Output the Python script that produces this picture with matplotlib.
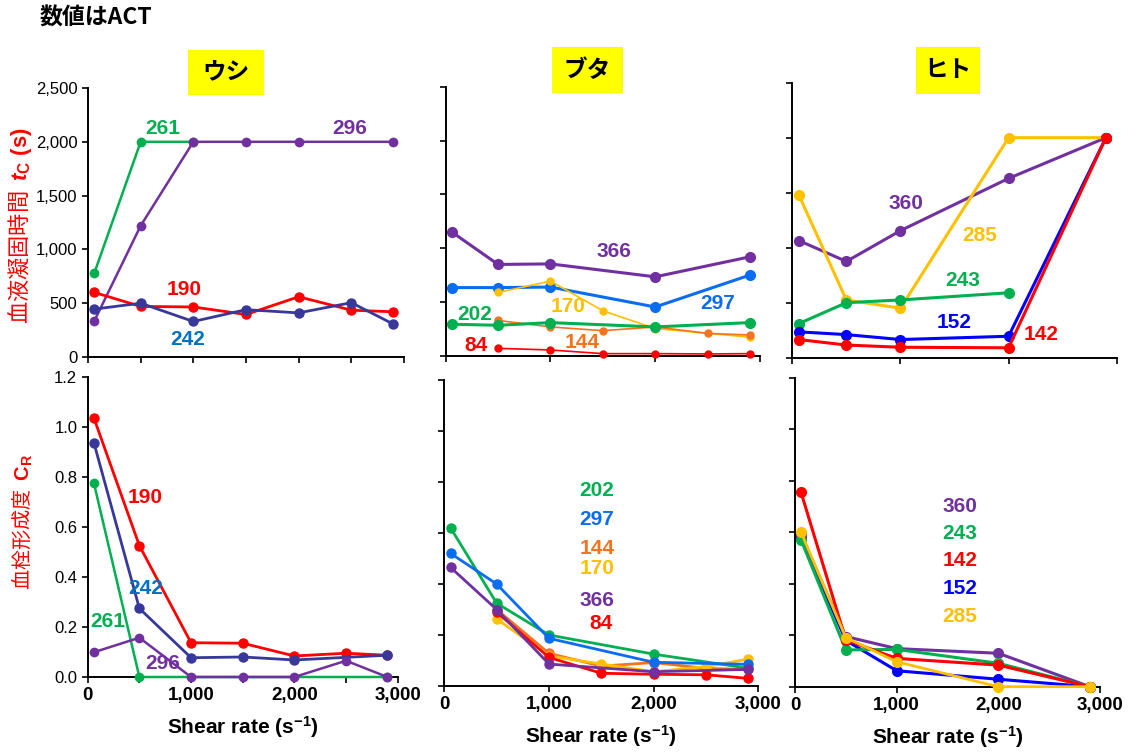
import matplotlib.pyplot as plt
from matplotlib.patches import Rectangle

plt.rcParams['font.family'] = ['Liberation Sans', 'Noto Sans CJK JP']
plt.rcParams['mathtext.fontset'] = 'custom'
plt.rcParams['mathtext.rm'] = 'Liberation Sans'
plt.rcParams['mathtext.bf'] = 'Liberation Sans:bold'
plt.rcParams['mathtext.it'] = 'Liberation Sans:italic'
plt.rcParams['mathtext.bfit'] = 'Liberation Sans:bold:italic'

# colours
RED = '#FF0000'
GREEN = '#00B050'
PURPLE = '#7030A0'
NAVY = '#38389A'
LBLUE = '#0070C0'
BLUE2 = '#0A6CF0'
ORANGE = '#F4731F'
YELLOW = '#FFC000'
BLUE = '#0000FF'

# ---- ウシ (cow) ----
sr_cow = [60, 500, 1000, 1500, 2000, 2500, 2900]
tc_cow_190 = [600, 470, 465, 395, 560, 435, 420]
tc_cow_242_x = [60, 500, 1000, 1500, 2000, 2500, 2900]
tc_cow_242 = [445, 500, 330, 440, 410, 505, 305]
tc_cow_261_x = [60, 500, 1000]
tc_cow_261 = [780, 2000, 2000]
tc_cow_296_x = [60, 500, 1000, 1500, 2000, 2900]
tc_cow_296 = [335, 1220, 2000, 2000, 2000, 2000]

cr_cow_190 = [1.035, 0.525, 0.137, 0.135, 0.084, 0.095, 0.087]
cr_cow_242_x = [60, 500, 1000, 1500, 2000, 2900]
cr_cow_242 = [0.936, 0.274, 0.077, 0.080, 0.068, 0.087]
cr_cow_261_x = [60, 500, 2900]
cr_cow_261 = [0.775, 0.0, 0.0]
cr_cow_296 = [0.099, 0.157, 0.0, 0.0, 0.0, 0.065, 0.0]

# ---- ブタ (pig) ----
sr_pig_a = [60, 500, 1000, 2000, 2900]
sr_pig_b = [500, 1000, 1500, 2000, 2500, 2900]
sr_pig_170 = [500, 1000, 1500, 2000, 2900]
tc_pig_366 = [1150, 850, 855, 735, 920]
tc_pig_297 = [635, 635, 640, 455, 750]
tc_pig_202 = [295, 285, 310, 270, 310]
tc_pig_170 = [590, 695, 420, 255, 175]
tc_pig_144 = [330, 270, 235, 270, 210, 195]
tc_pig_84 = [71, 56, 22, 22, 19, 22]

cr_pig_202 = [0.62, 0.325, 0.20, 0.125, 0.07]
cr_pig_297 = [0.52, 0.40, 0.187, 0.093, 0.085]
cr_pig_366 = [0.465, 0.30, 0.086, 0.056, 0.065]
cr_pig_144 = [0.30, 0.128, 0.078, 0.092, 0.069, 0.065]
cr_pig_170_x = [500, 1000, 1500, 2000, 2500, 2900]
cr_pig_170 = [0.263, 0.118, 0.086, 0.056, 0.076, 0.105]
cr_pig_84 = [0.29, 0.112, 0.05, 0.046, 0.044, 0.030]

# ---- ヒト (human) ----
sr_hum = [60, 500, 1000, 2000, 2900]
sr_hum_243 = [60, 500, 1000, 2000]
tc_hum_360 = [1065, 875, 1155, 1630, 2000]
tc_hum_285 = [1480, 525, 450, 2000, 2000]
tc_hum_243 = [310, 500, 525, 590]
tc_hum_152 = [235, 210, 165, 195, 2000]
tc_hum_142 = [165, 115, 95, 90, 2000]

cr_hum_360 = [0.59, 0.195, 0.148, 0.13, 0.0]
cr_hum_243 = [0.57, 0.143, 0.145, 0.091, 0.0]
cr_hum_152 = [0.58, 0.18, 0.062, 0.029, 0.0]
cr_hum_142 = [0.755, 0.182, 0.110, 0.084, 0.0]
cr_hum_285 = [0.60, 0.191, 0.097, 0.0, 0.0]

W, H = 1129, 755
fig = plt.figure(figsize=(W / 100, H / 100), dpi=100)


def box(x0, y0, x1, y1):
    # pixel box (top-left origin) -> figure fraction
    return [x0 / W, 1 - y1 / H, (x1 - x0) / W, (y1 - y0) / H]


def style(ax):
    for s in ['top', 'right']:
        ax.spines[s].set_visible(False)
    for s in ['left', 'bottom']:
        ax.spines[s].set_linewidth(1.4)
    ax.tick_params(direction='out', length=4, width=1.2, which='both')
    ax.set_xlim(0, 3000)


def line(ax, x, y, c, lw=2.0, ms=6):
    ax.plot(x, y, '-o', color=c, lw=lw, ms=ms, clip_on=False, zorder=3)


def lab(ax, x, y, s, c, fs=15):
    ax.text(x, y, s, color=c, fontsize=fs, fontweight='bold', ha='center', va='center', zorder=5)


yt_top = [0, 500, 1000, 1500, 2000, 2500]
yt_bot = [0, 0.2, 0.4, 0.6, 0.8, 1.0, 1.2]

ax1 = fig.add_axes(box(88, 88, 404, 357))
ax2 = fig.add_axes(box(445.7, 86.7, 760, 356))
ax3 = fig.add_axes(box(792.3, 82.7, 1116.7, 357.7))
ax4 = fig.add_axes(box(87.7, 376.7, 397.7, 677))
ax5 = fig.add_axes(box(444.3, 380, 758.3, 686))
ax6 = fig.add_axes(box(795, 378, 1100, 686.7))

for ax in [ax1, ax2, ax3]:
    style(ax)
    ax.set_ylim(0, 2500)
    ax.set_yticks(yt_top)
    ax.set_xticklabels([])
for ax in [ax4, ax5, ax6]:
    style(ax)
    ax.set_ylim(0, 1.2)
    ax.set_yticks(yt_bot)

ax1.set_xticks([0, 500, 1000, 1500, 2000, 2500, 3000])
ax1.set_xticklabels([])
ax2.set_xticks([0, 1000, 2000, 3000])
ax2.set_xticklabels([])
ax3.set_xticks([0, 1000, 2000, 3000])
ax3.set_xticklabels([])
ax1.set_yticklabels([f'{v:,}' for v in yt_top], fontsize=12)
ax2.set_yticklabels([])
ax3.set_yticklabels([])

ax4.set_yticklabels([f'{v:.1f}' for v in yt_bot], fontsize=12)
ax5.set_yticklabels([])
ax6.set_yticklabels([])
for ax in [ax4, ax5, ax6]:
    ax.set_xticks([0, 1000, 2000, 3000])
    ax.set_xticklabels([f'{v:,}' for v in [0, 1000, 2000, 3000]], fontsize=13.5, fontweight='bold')
    ax.set_xlabel('$\\mathbf{Shear\\ rate\\ (s^{-1})}$', fontsize=15, labelpad=7)
ax4.set_xticks([500, 1500, 2500], minor=True)

# top-left: cow clotting time
line(ax1, tc_cow_261_x, tc_cow_261, GREEN, 1.8, 6)
line(ax1, tc_cow_296_x, tc_cow_296, PURPLE, 1.8, 6)
line(ax1, sr_cow, tc_cow_190, RED, 2.0, 6.5)
line(ax1, tc_cow_242_x, tc_cow_242, NAVY, 2.0, 6.5)
lab(ax1, 712, 2128, '261', GREEN)
lab(ax1, 2487, 2128, '296', PURPLE)
lab(ax1, 911, 623, '190', RED)
lab(ax1, 949, 158, '242', LBLUE)

# top-middle: pig clotting time
line(ax2, sr_pig_a, tc_pig_366, PURPLE, 2.2, 7)
line(ax2, sr_pig_a, tc_pig_297, BLUE2, 2.2, 7)
line(ax2, sr_pig_170, tc_pig_170, YELLOW, 1.2, 5)
line(ax2, sr_pig_b, tc_pig_144, ORANGE, 1.2, 5)
line(ax2, sr_pig_a, tc_pig_202, GREEN, 2.2, 7)
line(ax2, sr_pig_b, tc_pig_84, RED, 1.2, 5)
lab(ax2, 1606, 966, '366', PURPLE)
lab(ax2, 2598, 483, '297', BLUE2)
lab(ax2, 280, 381, '202', GREEN)
lab(ax2, 1167, 464, '170', YELLOW)
lab(ax2, 1300, 121, '144', ORANGE)
lab(ax2, 289, 93, '84', RED)

# top-right: human clotting time
line(ax3, sr_hum, tc_hum_360, PURPLE, 2.2, 7)
line(ax3, sr_hum, tc_hum_285, YELLOW, 2.2, 7)
line(ax3, sr_hum_243, tc_hum_243, GREEN, 2.2, 7)
line(ax3, sr_hum, tc_hum_152, BLUE, 2.2, 7)
line(ax3, sr_hum, tc_hum_142, RED, 2.2, 7)
lab(ax3, 1052, 1406, '360', PURPLE)
lab(ax3, 1736, 1115, '285', YELLOW)
lab(ax3, 1579, 706, '243', GREEN)
lab(ax3, 1496, 316, '152', BLUE)
lab(ax3, 2300, 215, '142', RED)

# bottom-left: cow thrombus formation
line(ax4, cr_cow_261_x, cr_cow_261, GREEN, 1.8, 6)
line(ax4, sr_cow, cr_cow_190, RED, 2.0, 6.5)
line(ax4, cr_cow_242_x, cr_cow_242, NAVY, 2.0, 6.5)
line(ax4, sr_cow, cr_cow_296, PURPLE, 1.8, 6)
lab(ax4, 555, 0.719, '190', RED)
lab(ax4, 564, 0.352, '242', LBLUE)
lab(ax4, 197, 0.220, '261', GREEN)
lab(ax4, 729, 0.052, '296', PURPLE)

# bottom-middle: pig thrombus formation
line(ax5, sr_pig_b, cr_pig_144, ORANGE, 2.0, 6.5)
line(ax5, cr_pig_170_x, cr_pig_170, YELLOW, 2.0, 6.5)
line(ax5, sr_pig_b, cr_pig_84, RED, 2.0, 6.5)
line(ax5, sr_pig_a, cr_pig_202, GREEN, 2.0, 6.5)
line(ax5, sr_pig_a, cr_pig_297, BLUE2, 2.0, 6.5)
line(ax5, sr_pig_a, cr_pig_366, PURPLE, 2.0, 6.5)
lab(ax5, 1458, 0.765, '202', GREEN)
lab(ax5, 1458, 0.651, '297', BLUE2)
lab(ax5, 1458, 0.541, '144', ORANGE)
lab(ax5, 1458, 0.459, '170', YELLOW)
lab(ax5, 1458, 0.337, '366', PURPLE)
lab(ax5, 1497, 0.247, '84', RED)

# bottom-right: human thrombus formation
line(ax6, sr_hum, cr_hum_152, BLUE, 2.2, 7)
line(ax6, sr_hum, cr_hum_360, PURPLE, 2.2, 7)
line(ax6, sr_hum, cr_hum_243, GREEN, 2.2, 7)
line(ax6, sr_hum, cr_hum_142, RED, 2.2, 7)
line(ax6, sr_hum, cr_hum_285, YELLOW, 2.0, 7)
lab(ax6, 1622, 0.702, '360', PURPLE)
lab(ax6, 1622, 0.597, '243', GREEN)
lab(ax6, 1622, 0.489, '142', RED)
lab(ax6, 1622, 0.380, '152', BLUE)
lab(ax6, 1622, 0.271, '285', YELLOW)

# y labels (non-math part of a mathtext string uses the text's own font)
fig.text(20 / W, 1 - 226 / H, '血液凝固時間  $\\mathbfit{t}_\\mathbf{C}\\ \\mathbf{(s)}$', color=RED,
         fontsize=16, rotation=90, ha='center', va='center', family='Noto Sans CJK JP')
fig.text(23 / W, 1 - 522 / H, '血栓形成度  $\\mathbf{C}_\\mathbf{R}$', color=RED,
         fontsize=14.5, rotation=90, ha='center', va='center', family='Noto Sans CJK JP')

# species title boxes
titles = ['ウシ', 'ブタ', 'ヒト']
title_boxes = [(188, 50, 264, 95), (552, 47, 623, 93), (916, 47, 980, 94)]
for t, (x0, y0, x1, y1) in zip(titles, title_boxes):
    fig.add_artist(Rectangle((x0 / W, 1 - y1 / H), (x1 - x0) / W, (y1 - y0) / H,
                             transform=fig.transFigure, facecolor='#FFFF00', edgecolor='none'))
    fig.text((x0 + x1) / 2 / W, 1 - (y0 + y1) / 2 / H, t, fontsize=17, fontweight='bold',
             family='Noto Sans CJK JP', ha='center', va='center')

fig.text(40 / W, 1 - 18 / H, '数値はACT', fontsize=16.5, fontweight='bold',
         family=['Noto Sans CJK JP'], ha='left', va='center')

fig.savefig('out.png', dpi=100)
